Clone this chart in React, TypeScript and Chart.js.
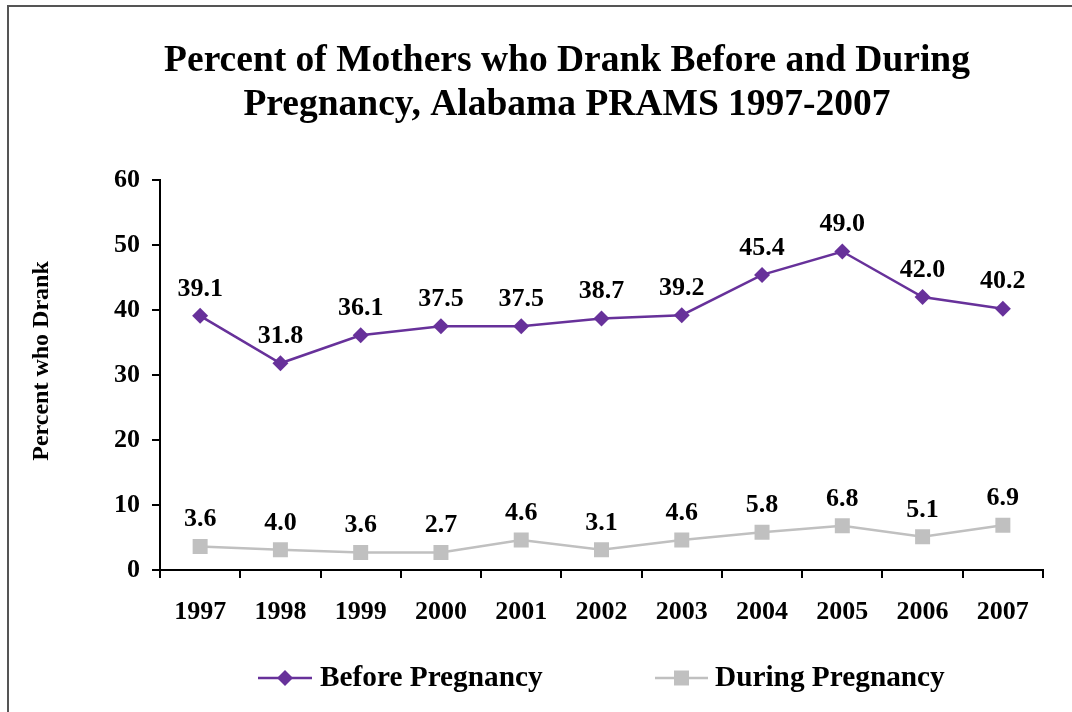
import React, { useEffect, useRef } from "react";
import { Chart, registerables } from "chart.js";

Chart.register(...registerables);

const years = ["1997", "1998", "1999", "2000", "2001", "2002", "2003", "2004", "2005", "2006", "2007"];
const beforeValues = [39.1, 31.8, 36.1, 37.5, 37.5, 38.7, 39.2, 45.4, 49.0, 42.0, 40.2];
const beforeLabels = ["39.1", "31.8", "36.1", "37.5", "37.5", "38.7", "39.2", "45.4", "49.0", "42.0", "40.2"];
// plotted positions of the "During" markers as drawn in the reference
const duringValues = [3.6, 3.1, 2.7, 2.7, 4.6, 3.1, 4.6, 5.8, 6.8, 5.1, 6.9];
// data labels as printed in the reference
const duringLabels = ["3.6", "4.0", "3.6", "2.7", "4.6", "3.1", "4.6", "5.8", "6.8", "5.1", "6.9"];
const yTicks = [0, 10, 20, 30, 40, 50, 60];
const titleLines = ["Percent of Mothers who Drank Before and During", "Pregnancy, Alabama PRAMS 1997-2007"];
const yTitle = "Percent who Drank";
const seriesNames = ["Before Pregnancy", "During Pregnancy"];

const PURPLE = "#67319a";
const GRAY = "#c0c0c0";
const FONT = "'Liberation Serif', 'Times New Roman', serif";

export default function App() {
  const ref = useRef<HTMLCanvasElement | null>(null);

  useEffect(() => {
    const canvas = ref.current;
    if (!canvas) return;

    const decor = {
      id: "decor",
      afterDatasetsDraw(chart: any) {
        const ctx = chart.ctx;
        ctx.save();
        // data labels
        ctx.font = `bold 26px ${FONT}`;
        ctx.fillStyle = "#000";
        ctx.textAlign = "center";
        ctx.textBaseline = "middle";
        const labelSets = [beforeLabels, duringLabels];
        chart.data.datasets.forEach((_ds: any, di: number) => {
          const meta = chart.getDatasetMeta(di);
          meta.data.forEach((pt: any, i: number) => {
            ctx.fillText(labelSets[di][i], pt.x, pt.y - 27);
          });
        });
        ctx.restore();
      },
      afterDraw(chart: any) {
        const ctx = chart.ctx;
        ctx.save();
        ctx.fillStyle = "#000";
        // title
        ctx.font = `bold 37.5px ${FONT}`;
        ctx.textAlign = "center";
        ctx.textBaseline = "middle";
        ctx.fillText(titleLines[0], 567, 61);
        ctx.fillText(titleLines[1], 567, 105);
        // y title
        ctx.save();
        ctx.translate(42, 361);
        ctx.rotate(-Math.PI / 2);
        ctx.font = `bold 24px ${FONT}`;
        ctx.fillText(yTitle, 0, 0);
        ctx.restore();
        // legend
        const ly = 678;
        const items = [
          { x0: 258, x1: 312, color: PURPLE, style: "diamond", tx: 320, name: seriesNames[0] },
          { x0: 655, x1: 708, color: GRAY, style: "square", tx: 715, name: seriesNames[1] },
        ];
        items.forEach((it) => {
          ctx.strokeStyle = it.color;
          ctx.lineWidth = 2.5;
          ctx.beginPath();
          ctx.moveTo(it.x0, ly);
          ctx.lineTo(it.x1, ly);
          ctx.stroke();
          const cx = (it.x0 + it.x1) / 2;
          ctx.fillStyle = it.color;
          ctx.beginPath();
          if (it.style === "diamond") {
            ctx.moveTo(cx, ly - 8);
            ctx.lineTo(cx + 8, ly);
            ctx.lineTo(cx, ly + 8);
            ctx.lineTo(cx - 8, ly);
            ctx.closePath();
          } else {
            ctx.rect(cx - 7.5, ly - 7.5, 15, 15);
          }
          ctx.fill();
          ctx.fillStyle = "#000";
          ctx.font = `bold 29.3px ${FONT}`;
          ctx.textAlign = "left";
          ctx.textBaseline = "middle";
          ctx.fillText(it.name, it.tx, ly);
        });
        ctx.restore();
      },
    };

    const chart = new Chart(canvas, {
      type: "line",
      data: {
        labels: years,
        datasets: [
          {
            label: seriesNames[0],
            data: beforeValues,
            borderColor: PURPLE,
            backgroundColor: PURPLE,
            borderWidth: 2.5,
            pointStyle: "rectRot",
            pointRadius: 8,
            pointBorderWidth: 0,
            tension: 0,
          },
          {
            label: seriesNames[1],
            data: duringValues,
            borderColor: GRAY,
            backgroundColor: GRAY,
            borderWidth: 2.5,
            pointStyle: "rect",
            pointRadius: 10.6,
            pointBorderWidth: 0,
            tension: 0,
          },
        ],
      },
      options: {
        responsive: false,
        animation: false,
        devicePixelRatio: 1,
        layout: { padding: { left: 0, right: 29, top: 180, bottom: 0 } },
        plugins: {
          legend: { display: false },
          title: { display: false },
          tooltip: { enabled: false },
        },
        scales: {
          x: {
            type: "category",
            offset: true,
            grid: {
              offset: true,
              drawOnChartArea: false,
              drawTicks: true,
              tickLength: 8,
              color: "#000",
              lineWidth: 2,
            },
            border: { color: "#000", width: 2 },
            ticks: {
              color: "#000",
              font: { family: FONT, size: 26, weight: "bold" },
              padding: 19,
              maxRotation: 0,
            },
            afterFit: (s: any) => {
              s.height = 142;
            },
          },
          y: {
            min: 0,
            max: 60,
            afterBuildTicks: (s: any) => {
              s.ticks = yTicks.map((v) => ({ value: v }));
            },
            grid: {
              drawOnChartArea: false,
              drawTicks: true,
              tickLength: 8,
              color: "#000",
              lineWidth: 2,
            },
            border: { color: "#000", width: 2 },
            ticks: {
              color: "#000",
              font: { family: FONT, size: 26, weight: "bold" },
              padding: 12,
            },
            afterFit: (s: any) => {
              s.width = 160;
            },
          },
        },
      },
      plugins: [decor],
    } as any);

    return () => chart.destroy();
  }, []);

  return (
    <div style={{ position: "fixed", left: 0, top: 0, width: 1072, height: 712, overflow: "hidden", background: "#fff" }}>
      <div
        style={{
          position: "absolute",
          left: 7,
          top: 5,
          width: 1200,
          height: 900,
          borderTop: "2px solid #555",
          borderLeft: "2px solid #555",
        }}
      />
      <canvas
        ref={ref}
        width={1072}
        height={712}
        style={{ position: "absolute", left: 0, top: 0, width: 1072, height: 712 }}
      />
    </div>
  );
}
